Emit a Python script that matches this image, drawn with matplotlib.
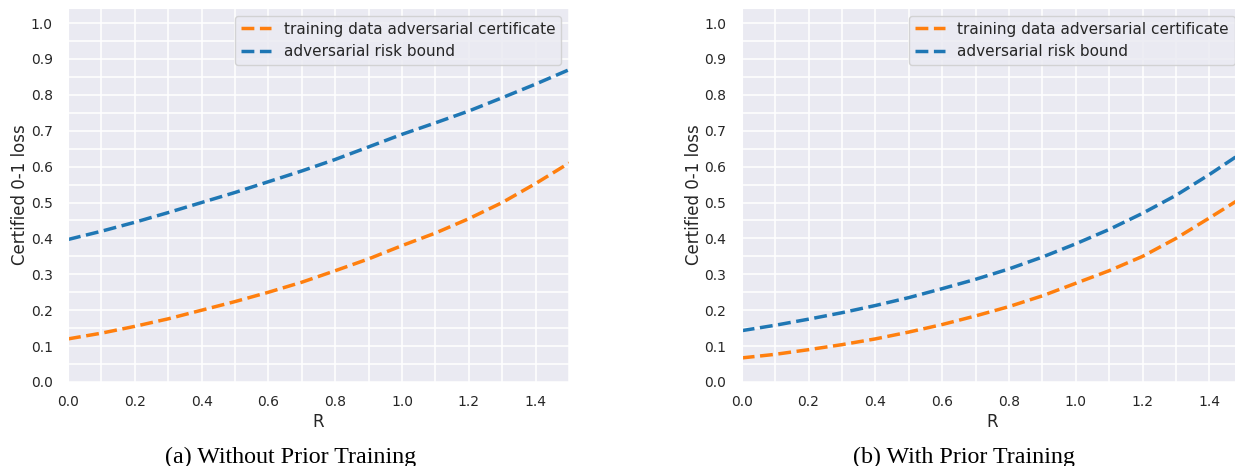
import numpy as np
import matplotlib
matplotlib.use("Agg")
import matplotlib.pyplot as plt
import seaborn as sns
from matplotlib.ticker import MultipleLocator

# radius values
R = [0.0, 0.1, 0.2, 0.3, 0.4, 0.5, 0.6, 0.7, 0.8, 0.9, 1.0, 1.1, 1.2, 1.3, 1.4, 1.5]

# (a) without prior training
cert_a = [0.120, 0.136, 0.155, 0.176, 0.200, 0.224, 0.250, 0.278, 0.310, 0.343,
          0.380, 0.415, 0.455, 0.500, 0.553, 0.610]
risk_a = [0.397, 0.420, 0.445, 0.472, 0.500, 0.528, 0.558, 0.588, 0.620, 0.655,
          0.690, 0.722, 0.755, 0.792, 0.830, 0.870]

# (b) with prior training
cert_b = [0.067, 0.077, 0.090, 0.104, 0.120, 0.139, 0.160, 0.184, 0.210, 0.240,
          0.275, 0.310, 0.350, 0.400, 0.457, 0.515]
risk_b = [0.143, 0.158, 0.175, 0.193, 0.213, 0.235, 0.260, 0.286, 0.315, 0.348,
          0.385, 0.425, 0.470, 0.520, 0.578, 0.640]

captions = ["(a) Without Prior Training", "(b) With Prior Training"]

sns.set_style("darkgrid")
plt.rcParams['font.family'] = ['DejaVu Sans']

fig = plt.figure(figsize=(12.35, 4.66), dpi=100)
ax_a = fig.add_axes([0.0551, 0.1803, 0.4057, 0.8026])
ax_b = fig.add_axes([0.6006, 0.1803, 0.4057, 0.8026])

for ax, cert, risk in [(ax_a, cert_a, risk_a), (ax_b, cert_b, risk_b)]:
    ax.plot(R, cert, ls="--", lw=2.5, color="#ff7f0e",
            label="training data adversarial certificate")
    ax.plot(R, risk, ls="--", lw=2.5, color="#1f77b4",
            label="adversarial risk bound")
    ax.set_xlim(0, 1.5)
    ax.set_ylim(0, 1.042)
    ax.xaxis.set_major_locator(MultipleLocator(0.2))
    ax.xaxis.set_minor_locator(MultipleLocator(0.1))
    ax.yaxis.set_major_locator(MultipleLocator(0.1))
    ax.yaxis.set_minor_locator(MultipleLocator(0.05))
    ax.grid(which="major", color="white", lw=1.1)
    ax.grid(which="minor", color="white", lw=1.1)
    ax.tick_params(which="both", length=0, labelsize=10, colors="#262626")
    ax.tick_params(axis="x", pad=9.5)
    ax.tick_params(axis="y", pad=11)
    ax.set_xlabel("R", fontsize=12, color="#262626", labelpad=3)
    ax.set_ylabel("Certified 0-1 loss", fontsize=12, color="#262626", labelpad=1)
    ax.legend(loc="upper right", fontsize=11, handlelength=2.0)

for ax, cap in zip([ax_a, ax_b], captions):
    pos = ax.get_position()
    xc = pos.x0 + pos.width / 2 - 28 / 1235
    fig.text(xc, 0.018, cap, ha="center", va="center", fontsize=17.3,
             family="Liberation Serif", color="black")

fig.savefig("out.png", dpi=100)
